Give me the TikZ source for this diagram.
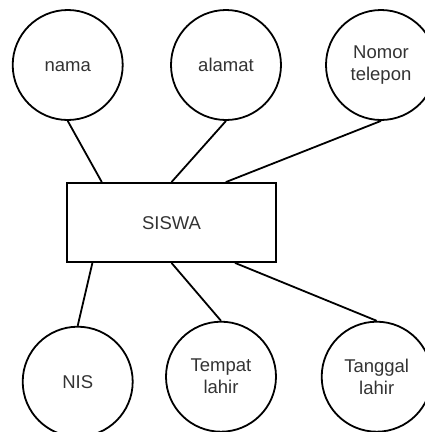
\documentclass[tikz,border=0pt]{standalone}
\usepackage{fontspec}
\setmainfont{Liberation Sans}
\usetikzlibrary{calc}

\definecolor{teks}{HTML}{333333}

\tikzset{
    atribut/.style={draw, circle, line width=1.8pt, minimum size=110pt, inner sep=0pt,
        align=center, text=teks, font=\fontsize{18.5}{22}\selectfont},
    satubaris/.style={text height=13.2pt, text depth=0pt},
    entitas/.style={draw, rectangle, line width=1.8pt, minimum width=209pt, minimum height=79pt,
        inner sep=0pt, text=teks, font=\fontsize{18.5}{22}\selectfont},
    garis/.style={line width=1.8pt}
}

\begin{document}
\begin{tikzpicture}[x=1pt, y=-1pt]
    \useasboundingbox (0,0) rectangle (425,432);
    \clip (0,0) rectangle (425,432);

    % entitas di tengah
    \node[entitas, satubaris] (siswa) at (171.5, 222.5) {SISWA};

    % atribut baris atas
    \node[atribut, satubaris] (nama) at (67.7, 65) {nama};
    \node[atribut, satubaris] (alamat) at (226, 65) {alamat};
    \node[atribut] (telepon) at (381, 65) {Nomor\\telepon};

    % atribut baris bawah
    \node[atribut, satubaris] (nis) at (77.7, 381.7) {NIS};
    \node[atribut] (tempat) at (221, 376.7) {Tempat\\lahir};
    \node[atribut] (tanggal) at (376.7, 376.7) {Tanggal\\lahir};

    % titik sambung pada sisi entitas
    \coordinate (s1) at ($(siswa.north west)+(35.7,0)$);
    \coordinate (s3) at ($(siswa.north west)+(159.7,0)$);
    \coordinate (s4) at ($(siswa.south west)+(26.3,0)$);
    \coordinate (s6) at ($(siswa.south)+(63.5,0)$);

    \draw[garis] (nama.south) -- (s1);
    \draw[garis] (alamat.south) -- (siswa.north);
    \draw[garis] (telepon.south) -- (s3);
    \draw[garis] (s4) -- (nis.north);
    \draw[garis] (siswa.south) -- (tempat.north);
    \draw[garis] (s6) -- (tanggal.north);
\end{tikzpicture}
\end{document}
